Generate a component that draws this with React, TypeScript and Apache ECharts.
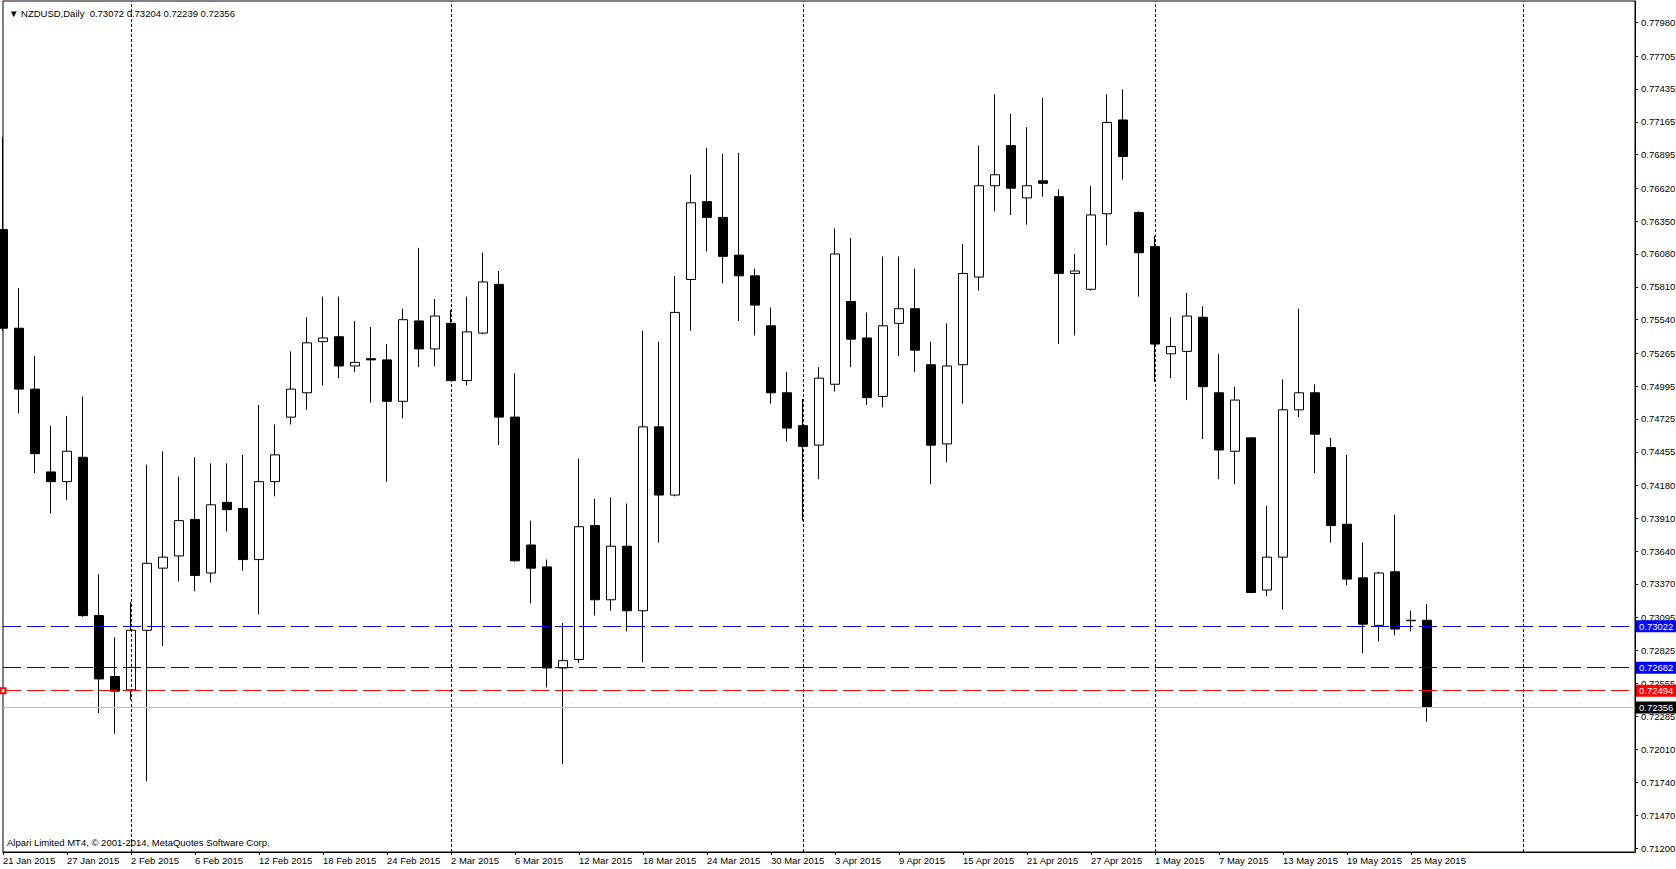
import React, { useEffect, useRef } from 'react';
import * as echarts from 'echarts';

// ---- data ----
const symbolName = 'NZDUSD';
const timeframe = 'Daily';

const dates = [
  '21 Jan 2015', '22 Jan 2015', '23 Jan 2015', '26 Jan 2015', '27 Jan 2015', '28 Jan 2015', '29 Jan 2015', '30 Jan 2015',
  '2 Feb 2015', '3 Feb 2015', '4 Feb 2015', '5 Feb 2015', '6 Feb 2015', '9 Feb 2015', '10 Feb 2015', '11 Feb 2015',
  '12 Feb 2015', '13 Feb 2015', '16 Feb 2015', '17 Feb 2015', '18 Feb 2015', '19 Feb 2015', '20 Feb 2015', '23 Feb 2015',
  '24 Feb 2015', '25 Feb 2015', '26 Feb 2015', '27 Feb 2015',
  '2 Mar 2015', '3 Mar 2015', '4 Mar 2015', '5 Mar 2015', '6 Mar 2015', '9 Mar 2015', '10 Mar 2015', '11 Mar 2015',
  '12 Mar 2015', '13 Mar 2015', '16 Mar 2015', '17 Mar 2015', '18 Mar 2015', '19 Mar 2015', '20 Mar 2015', '23 Mar 2015',
  '24 Mar 2015', '25 Mar 2015', '26 Mar 2015', '27 Mar 2015', '30 Mar 2015', '31 Mar 2015',
  '1 Apr 2015', '2 Apr 2015', '3 Apr 2015', '6 Apr 2015', '7 Apr 2015', '8 Apr 2015', '9 Apr 2015', '10 Apr 2015',
  '13 Apr 2015', '14 Apr 2015', '15 Apr 2015', '16 Apr 2015', '17 Apr 2015', '20 Apr 2015', '21 Apr 2015', '22 Apr 2015',
  '23 Apr 2015', '24 Apr 2015', '27 Apr 2015', '28 Apr 2015', '29 Apr 2015', '30 Apr 2015',
  '1 May 2015', '4 May 2015', '5 May 2015', '6 May 2015', '7 May 2015', '8 May 2015', '11 May 2015', '12 May 2015',
  '13 May 2015', '14 May 2015', '15 May 2015', '18 May 2015', '19 May 2015', '20 May 2015', '21 May 2015', '22 May 2015',
  '25 May 2015', '26 May 2015',
];

// [open, close, low, high]
const ohlc = [
  [0.7628, 0.7547, 0.7545, 0.7704],
  [0.7547, 0.7497, 0.7477, 0.7580],
  [0.7497, 0.7444, 0.7428, 0.7524],
  [0.7429, 0.7421, 0.7395, 0.7467],
  [0.7421, 0.7446, 0.7406, 0.7475],
  [0.7441, 0.7311, 0.7310, 0.7491],
  [0.7311, 0.7259, 0.7231, 0.7345],
  [0.7261, 0.7249, 0.7214, 0.7293],
  [0.7250, 0.7299, 0.7242, 0.7322],
  [0.7299, 0.7354, 0.7175, 0.7435],
  [0.7350, 0.7359, 0.7286, 0.7446],
  [0.7360, 0.7389, 0.7339, 0.7425],
  [0.7390, 0.7344, 0.7331, 0.7441],
  [0.7346, 0.7402, 0.7338, 0.7436],
  [0.7404, 0.7398, 0.7380, 0.7436],
  [0.7399, 0.7357, 0.7348, 0.7443],
  [0.7357, 0.7421, 0.7312, 0.7484],
  [0.7421, 0.7443, 0.7409, 0.7468],
  [0.7474, 0.7497, 0.7468, 0.7528],
  [0.7494, 0.7535, 0.7480, 0.7556],
  [0.7536, 0.7539, 0.7500, 0.7573],
  [0.7540, 0.7516, 0.7506, 0.7573],
  [0.7516, 0.7519, 0.7511, 0.7553],
  [0.7522, 0.7521, 0.7486, 0.7548],
  [0.7521, 0.7487, 0.7421, 0.7534],
  [0.7487, 0.7554, 0.7473, 0.7563],
  [0.7553, 0.7530, 0.7515, 0.7613],
  [0.7530, 0.7557, 0.7516, 0.7571],
  [0.7551, 0.7504, 0.7504, 0.7562],
  [0.7504, 0.7544, 0.7500, 0.7573],
  [0.7543, 0.7585, 0.7542, 0.7609],
  [0.7583, 0.7474, 0.7451, 0.7594],
  [0.7474, 0.7356, 0.7355, 0.7510],
  [0.7369, 0.7350, 0.7321, 0.7389],
  [0.7351, 0.7268, 0.7252, 0.7357],
  [0.7268, 0.7274, 0.7189, 0.7305],
  [0.7275, 0.7384, 0.7272, 0.7440],
  [0.7385, 0.7324, 0.7311, 0.7407],
  [0.7324, 0.7368, 0.7315, 0.7408],
  [0.7368, 0.7315, 0.7298, 0.7403],
  [0.7315, 0.7466, 0.7273, 0.7545],
  [0.7466, 0.7410, 0.7371, 0.7536],
  [0.7410, 0.7560, 0.7409, 0.7590],
  [0.7587, 0.7650, 0.7545, 0.7673],
  [0.7651, 0.7638, 0.7610, 0.7695],
  [0.7638, 0.7606, 0.7584, 0.7690],
  [0.7607, 0.7590, 0.7553, 0.7691],
  [0.7590, 0.7566, 0.7541, 0.7596],
  [0.7549, 0.7494, 0.7485, 0.7564],
  [0.7494, 0.7465, 0.7454, 0.7511],
  [0.7467, 0.7450, 0.7389, 0.7489],
  [0.7451, 0.7506, 0.7423, 0.7515],
  [0.7501, 0.7608, 0.7495, 0.7629],
  [0.7569, 0.7538, 0.7515, 0.7621],
  [0.7539, 0.7490, 0.7484, 0.7560],
  [0.7491, 0.7549, 0.7482, 0.7606],
  [0.7551, 0.7563, 0.7524, 0.7606],
  [0.7563, 0.7529, 0.7511, 0.7596],
  [0.7517, 0.7451, 0.7419, 0.7536],
  [0.7452, 0.7516, 0.7437, 0.7551],
  [0.7517, 0.7592, 0.7485, 0.7616],
  [0.7589, 0.7664, 0.7578, 0.7697],
  [0.7664, 0.7673, 0.7643, 0.7739],
  [0.7697, 0.7662, 0.7640, 0.7723],
  [0.7654, 0.7664, 0.7632, 0.7712],
  [0.7668, 0.7666, 0.7655, 0.7736],
  [0.7655, 0.7592, 0.7534, 0.7661],
  [0.7592, 0.7594, 0.7541, 0.7608],
  [0.7579, 0.7640, 0.7578, 0.7664],
  [0.7641, 0.7716, 0.7615, 0.7739],
  [0.7718, 0.7688, 0.7669, 0.7743],
  [0.7642, 0.7609, 0.7573, 0.7643],
  [0.7614, 0.7534, 0.7503, 0.7623],
  [0.7526, 0.7532, 0.7506, 0.7556],
  [0.7528, 0.7557, 0.7488, 0.7576],
  [0.7556, 0.7499, 0.7456, 0.7565],
  [0.7494, 0.7447, 0.7423, 0.7526],
  [0.7446, 0.7488, 0.7419, 0.7499],
  [0.7457, 0.7330, 0.7330, 0.7457],
  [0.7332, 0.7359, 0.7327, 0.7401],
  [0.7359, 0.7480, 0.7316, 0.7505],
  [0.7480, 0.7494, 0.7474, 0.7563],
  [0.7494, 0.7460, 0.7428, 0.7501],
  [0.7449, 0.7385, 0.7371, 0.7457],
  [0.7386, 0.7341, 0.7336, 0.7443],
  [0.7342, 0.7304, 0.7280, 0.7371],
  [0.7303, 0.7346, 0.7290, 0.7347],
  [0.7347, 0.7300, 0.7295, 0.7394],
  [0.73068, 0.73072, 0.7298, 0.7315],
  [0.73072, 0.72356, 0.72239, 0.73204],
];

const futureSlots = 13; // empty bars to the right of the last candle

const yTicks = [
  0.712, 0.7147, 0.7174, 0.7201, 0.72285, 0.72555, 0.72825, 0.73095, 0.7337, 0.7364, 0.7391, 0.7418, 0.74455,
  0.74725, 0.74995, 0.75265, 0.7554, 0.7581, 0.7608, 0.7635, 0.7662, 0.76895, 0.77165, 0.77435, 0.77705, 0.7798,
];
const yMin = 0.71169;
const yMax = 0.78157;

// month period separators (bar indices, last one in the future area)
const separatorIndex = [8, 28, 50, 72, 95];

// horizontal price levels
const levelValues = [0.73022, 0.72682, 0.72494, 0.72356];
const levelColors = ['#0000FF', '#0000CD', '#FF0000', '#C0C0C0'];
const levelTagColors = ['#0000FF', '#0000FF', '#FF0000', '#000000'];

const copyright = 'Alpari Limited MT4, © 2001-2014, MetaQuotes Software Corp.';

const FONT = "'Liberation Sans', Arial, sans-serif";
const FS = 9.5;

export default function App() {
  const ref = useRef<HTMLDivElement>(null);

  useEffect(() => {
    if (!ref.current) return;
    const chart = echarts.init(ref.current, undefined, { renderer: 'svg' });

    const categories = dates.concat(Array.from({ length: futureSlots }, (_, i) => '~' + i));
    const last = ohlc[ohlc.length - 1];
    const header = `▼ ${symbolName},${timeframe}  ${last[0].toFixed(5)} ${last[3].toFixed(5)} ${last[2].toFixed(5)} ${last[1].toFixed(5)}`;
    const showIdx = (idx: number) => idx % 4 === 0 && idx < dates.length;

    const sepLines = separatorIndex.map((i) => ({
      xAxis: i,
      lineStyle: { color: '#000', type: [3, 2], width: 1 },
      label: { show: false },
    }));
    const levelLines = levelValues.map((v, i) => ({
      yAxis: v,
      symbol: i === 2 ? 'emptyRect' : 'none',
      symbolSize: 5,
      lineStyle: { color: levelColors[i], type: i === 3 ? 'solid' : [18, 6], width: 1 },
      label: {
        show: true,
        position: 'end',
        distance: 1,
        formatter: v.toFixed(5),
        color: '#fff',
        backgroundColor: levelTagColors[i],
        padding: [1, 3, 1, 3],
        fontSize: FS,
        fontFamily: FONT,
      },
    }));

    const option: any = {
      animation: false,
      backgroundColor: '#ffffff',
      textStyle: { fontFamily: FONT },
      title: {
        text: header,
        left: 4,
        top: 3,
        textStyle: { fontSize: FS, fontWeight: 'normal', color: '#000', fontFamily: FONT },
      },
      graphic: [
        {
          type: 'text',
          left: 7,
          top: 837,
          style: { text: copyright, fontSize: FS, fill: '#000', fontFamily: FONT },
        },
      ],
      grid: {
        left: 3,
        right: 41,
        top: 1,
        bottom: 17,
        show: true,
        borderColor: '#000',
        borderWidth: 1,
        containLabel: false,
        outerBoundsMode: 'none',
      },
      xAxis: {
        type: 'category',
        data: categories,
        boundaryGap: false,
        axisLine: { show: true, lineStyle: { color: '#000', width: 1 } },
        axisTick: { show: true, length: 3, interval: (idx: number) => showIdx(idx), lineStyle: { color: '#000' } },
        axisLabel: {
          interval: (idx: number) => showIdx(idx),
          formatter: (v: string) => (v.charAt(0) === '~' ? '' : v),
          align: 'left',
          margin: 3,
          fontSize: FS,
          color: '#000',
          fontFamily: FONT,
        },
        splitLine: { show: false },
      },
      yAxis: {
        type: 'value',
        position: 'right',
        min: yMin,
        max: yMax,
        axisLine: { show: true, lineStyle: { color: '#000', width: 1 } },
        axisTick: { show: true, length: 3, customValues: yTicks, lineStyle: { color: '#000' } },
        axisLabel: {
          customValues: yTicks,
          formatter: (v: number) => v.toFixed(5),
          margin: 6,
          fontSize: FS,
          color: '#000',
          fontFamily: FONT,
        },
        splitLine: { show: false },
      },
      series: [
        {
          type: 'candlestick',
          data: ohlc,
          barWidth: 10,
          clip: false,
          itemStyle: {
            color: '#ffffff',
            color0: '#000000',
            borderColor: '#000000',
            borderColor0: '#000000',
            borderWidth: 1,
          },
          markLine: {
            silent: true,
            animation: false,
            symbol: 'none',
            precision: 5,
            data: [...sepLines, ...levelLines],
          },
        },
      ],
    };

    chart.setOption(option);
    return () => chart.dispose();
  }, []);

  return (
    <div
      ref={ref}
      style={{ position: 'fixed', left: 0, top: 0, width: 1676, height: 869, background: '#fff' }}
    />
  );
}
